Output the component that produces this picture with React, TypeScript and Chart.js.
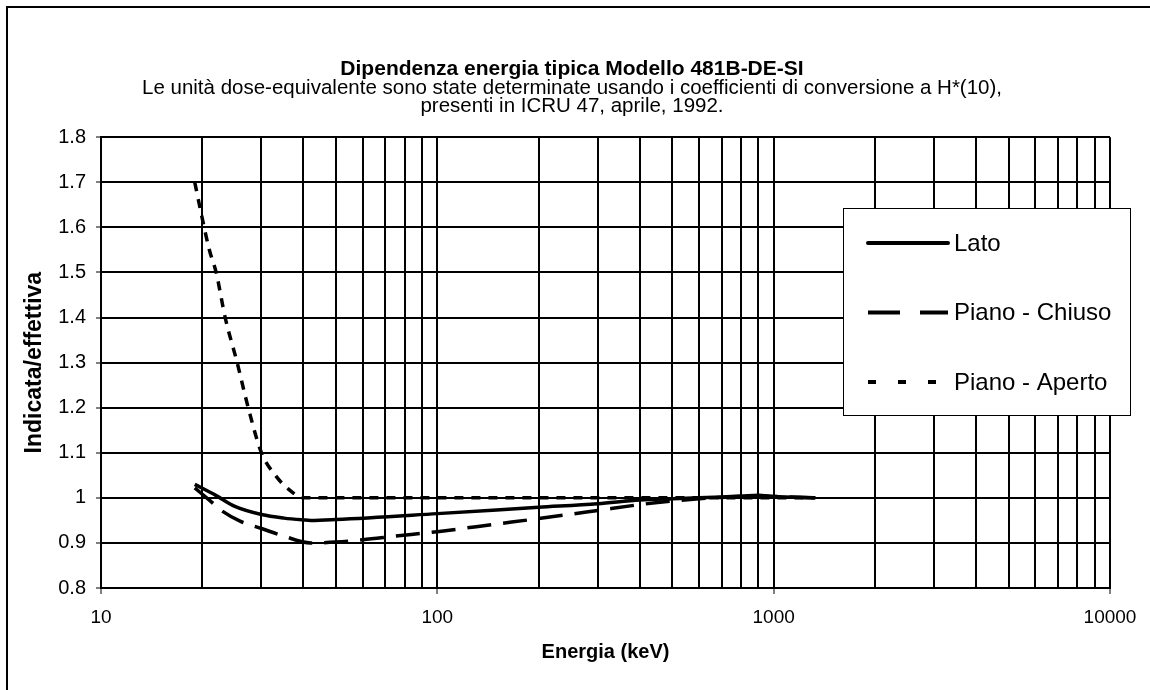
import React, { useEffect, useRef } from "react";
import { Chart, registerables } from "chart.js";

Chart.register(...registerables);

const TITLE = "Dipendenza energia tipica Modello 481B-DE-SI";
const SUBTITLE = [
  "Le unità dose-equivalente sono state determinate usando i coefficienti di conversione a H*(10),",
  "presenti in ICRU 47, aprile, 1992.",
];
const X_TITLE = "Energia (keV)";
const Y_TITLE = "Indicata/effettiva";

const X_TICKS = [
  10, 20, 30, 40, 50, 60, 70, 80, 90,
  100, 200, 300, 400, 500, 600, 700, 800, 900,
  1000, 2000, 3000, 4000, 5000, 6000, 7000, 8000, 9000,
  10000,
];
const X_LABELS = [10, 100, 1000, 10000];
const Y_TICKS = [0.8, 0.9, 1.0, 1.1, 1.2, 1.3, 1.4, 1.5, 1.6, 1.7, 1.8];

const SERIES_NAMES = ["Lato", "Piano - Chiuso", "Piano - Aperto"];

const LATO_E = [19, 22, 25, 30, 35, 40, 42, 50, 100, 200, 300, 400, 500, 600, 700, 800, 900, 1000, 1330];
const LATO_V = [1.03, 1.005, 0.981, 0.963, 0.955, 0.951, 0.95, 0.952, 0.965, 0.979, 0.987, 0.995, 0.998, 1.0, 1.002, 1.004, 1.006, 1.003, 1.0];

const CHIUSO_E = [19, 21, 23, 26, 30, 35, 42, 50, 60, 75, 100, 150, 200, 300, 400, 500, 600, 700, 800, 900, 1000, 1330];
const CHIUSO_V = [1.022, 0.995, 0.97, 0.948, 0.932, 0.915, 0.9, 0.902, 0.907, 0.915, 0.925, 0.942, 0.954, 0.972, 0.985, 0.993, 0.998, 1.001, 1.003, 1.004, 1.003, 1.0];

const APERTO_E = [19, 20, 21, 22, 23.4, 25.4, 27.4, 30, 33, 36, 40, 50, 100, 200, 400, 700, 1000, 1330];
const APERTO_V = [1.7, 1.62, 1.55, 1.5, 1.4, 1.3, 1.2, 1.1, 1.05, 1.02, 1.0, 1.0, 1.0, 1.0, 1.0, 1.0, 1.0, 1.0];

const FONT = '"Liberation Sans", Arial, sans-serif';

const toPoints = (xs: number[], ys: number[]) => xs.map((x, i) => ({ x, y: ys[i] }));

const LEGEND_DASH = [[], [32, 20], [8, 22]];

const framePlugin = {
  id: "frame",
  beforeDraw(chart: any) {
    const ctx = chart.ctx;
    ctx.save();
    ctx.fillStyle = "#ffffff";
    ctx.fillRect(0, 0, chart.width, chart.height);
    ctx.restore();
  },
  afterDraw(chart: any) {
    const ctx = chart.ctx;
    ctx.save();
    ctx.strokeStyle = "#000";
    ctx.lineWidth = 2;
    ctx.beginPath();
    ctx.moveTo(7, chart.height);
    ctx.lineTo(7, 7);
    ctx.lineTo(chart.width, 7);
    ctx.stroke();
    ctx.restore();
  },
};

const boxLegendPlugin = {
  id: "boxLegend",
  afterDraw(chart: any) {
    const ctx = chart.ctx;
    const x0 = 843;
    const y0 = 208;
    const w = 287;
    const h = 207;
    ctx.save();
    ctx.fillStyle = "#fff";
    ctx.fillRect(x0, y0, w, h);
    ctx.strokeStyle = "#000";
    ctx.lineWidth = 1;
    ctx.strokeRect(x0 + 0.5, y0 + 0.5, w, h);
    chart.data.datasets.forEach((ds: any, i: number) => {
      const y = 243 + i * 69.5;
      ctx.setLineDash(LEGEND_DASH[i]);
      ctx.lineWidth = 4;
      ctx.lineCap = i === 0 ? "round" : "butt";
      ctx.strokeStyle = ds.borderColor;
      ctx.beginPath();
      ctx.moveTo(868, y);
      ctx.lineTo(948, y);
      ctx.stroke();
      ctx.setLineDash([]);
      ctx.fillStyle = "#000";
      ctx.font = `24px ${FONT}`;
      ctx.textBaseline = "middle";
      ctx.textAlign = "left";
      ctx.fillText(ds.label, 954, y + 1);
    });
    ctx.restore();
  },
};

export default function App() {
  const ref = useRef<HTMLCanvasElement | null>(null);

  useEffect(() => {
    if (!ref.current) return;
    Chart.defaults.font.family = FONT;
    Chart.defaults.color = "#000";
    const chart = new Chart(ref.current, {
      type: "line",
      data: {
        datasets: [
          {
            label: SERIES_NAMES[0],
            data: toPoints(LATO_E, LATO_V),
            borderColor: "#000",
            borderWidth: 3.5,
            pointRadius: 0,
            cubicInterpolationMode: "monotone",
            fill: false,
          },
          {
            label: SERIES_NAMES[1],
            data: toPoints(CHIUSO_E, CHIUSO_V),
            borderColor: "#000",
            borderWidth: 3.5,
            borderDash: [24, 12],
            pointRadius: 0,
            cubicInterpolationMode: "monotone",
            fill: false,
          },
          {
            label: SERIES_NAMES[2],
            data: toPoints(APERTO_E, APERTO_V),
            borderColor: "#000",
            borderWidth: 3.5,
            borderDash: [9, 8],
            pointRadius: 0,
            cubicInterpolationMode: "monotone",
            fill: false,
          },
        ],
      },
      options: {
        animation: false,
        responsive: false,
        devicePixelRatio: 1,
        layout: { padding: { left: 34, right: 40, top: 0, bottom: 0 } },
        plugins: {
          legend: { display: false },
          tooltip: { enabled: false },
          title: {
            display: true,
            text: TITLE,
            color: "#000",
            font: { size: 21, weight: "bold", family: FONT, lineHeight: 1.0 },
            padding: { top: 59, bottom: 0 },
          },
          subtitle: {
            display: true,
            text: SUBTITLE,
            color: "#000",
            font: { size: 20.5, weight: "normal", family: FONT, lineHeight: 0.86 },
            padding: { top: 0, bottom: 22 },
          },
        },
        scales: {
          x: {
            type: "logarithmic",
            min: 10,
            max: 10000,
            afterBuildTicks: (scale: any) => {
              scale.ticks = X_TICKS.map((v) => ({ value: v, major: X_LABELS.includes(v) }));
            },
            afterFit: (scale: any) => {
              scale.height = 102;
            },
            ticks: {
              autoSkip: false,
              maxRotation: 0,
              minRotation: 0,
              padding: 12,
              font: { size: 19, family: FONT },
              color: "#000",
              callback: (value: any) => (X_LABELS.includes(Number(value)) ? String(value) : ""),
            },
            grid: {
              color: "#000",
              lineWidth: 2,
              tickLength: 6,
              tickWidth: 1,
              tickColor: (ctx: any) =>
                ctx.tick && X_LABELS.includes(ctx.tick.value) ? "#000" : "rgba(0,0,0,0)",
            },
            border: { color: "#000", width: 2 },
            title: {
              display: true,
              text: X_TITLE,
              color: "#000",
              font: { size: 20, weight: "bold", family: FONT },
              padding: { top: 0, bottom: 26 },
            },
          },
          y: {
            type: "linear",
            min: 0.8,
            max: 1.8,
            afterBuildTicks: (scale: any) => {
              scale.ticks = Y_TICKS.map((v) => ({ value: v }));
            },
            afterFit: (scale: any) => {
              scale.width = 67;
            },
            ticks: {
              padding: 10,
              font: { size: 20, family: FONT },
              color: "#000",
              callback: (value: any) => String(Math.round(Number(value) * 10) / 10),
            },
            grid: {
              color: "#000",
              lineWidth: 2,
              tickLength: 5,
              tickWidth: 1,
              tickColor: "#000",
            },
            border: { color: "#000", width: 2 },
            title: {
              display: true,
              text: Y_TITLE,
              color: "#000",
              font: { size: 23, weight: "bold", family: FONT, lineHeight: 1.0 },
              padding: { top: -10.5, bottom: 0 },
            },
          },
        },
      },
      plugins: [framePlugin, boxLegendPlugin],
    } as any);
    return () => chart.destroy();
  }, []);

  return (
    <div style={{ position: "fixed", left: 0, top: 0, width: 1150, height: 690, background: "#fff" }}>
      <canvas ref={ref} width={1150} height={690} style={{ display: "block" }} />
    </div>
  );
}
